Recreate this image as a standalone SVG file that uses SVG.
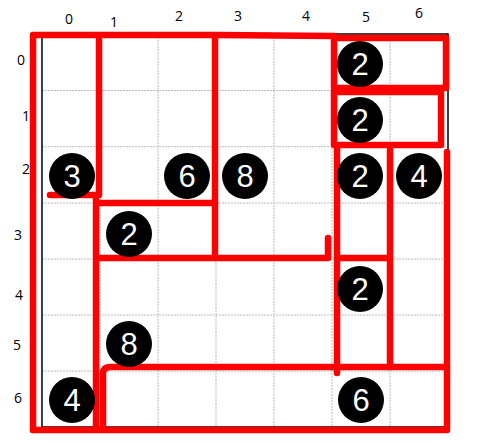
<svg xmlns="http://www.w3.org/2000/svg" width="479" height="442" viewBox="0 0 479 442">
<style>
.grid{stroke:#bbb;stroke-width:1;stroke-dasharray:2 1;fill:none}
.border{stroke:#000;stroke-width:1.5;fill:none}
.lbl{font-family:"Open Sans","Liberation Sans",sans-serif;font-size:14px;fill:#000;text-anchor:middle}
.dot circle{fill:#000}
.dot text{font-family:"Liberation Sans",Arial,sans-serif;font-size:31px;fill:#fff;text-anchor:middle}
.red{stroke:#ff0000;stroke-width:6.5;fill:none;stroke-linecap:round;stroke-linejoin:round}
</style>
<rect width="479" height="442" fill="#fff"/>
<g id="grid">
<path class="grid" d="M100 34V427M158 34V427M216 34V427M274 34V427M332 34V427M390 34V427M42 90.5H448M42 146.7H448M42 203H448M42 259H448M42 315H448M42 371H448"/>
<rect class="border" x="42" y="34" width="406" height="393"/>
</g>
<g id="labels">
<text class="lbl" x="69" y="24">0</text>
<text class="lbl" x="114" y="27">1</text>
<text class="lbl" x="179" y="21">2</text>
<text class="lbl" x="238" y="21">3</text>
<text class="lbl" x="306" y="21">4</text>
<text class="lbl" x="366" y="22">5</text>
<text class="lbl" x="419" y="18">6</text>
<text class="lbl" x="21" y="65">0</text>
<text class="lbl" x="26" y="121">1</text>
<text class="lbl" x="26" y="174">2</text>
<text class="lbl" x="18" y="240">3</text>
<text class="lbl" x="19" y="300">4</text>
<text class="lbl" x="17" y="350">5</text>
<text class="lbl" x="18" y="403">6</text>
</g>
<g id="connectors">
<path class="red" d="M33 430V35H218L333 36"/>
<path class="red" d="M33 430H447V152"/>
<path class="red" d="M99 40V195M50 195H96V427"/>
<path class="red" d="M100 203H215"/>
<path class="red" d="M215 36V258"/>
<path class="red" d="M97 258H328V238"/>
<path class="red" d="M334 36V88H446V38H334"/>
<path class="red" d="M334 91V145H441V92H334"/>
<path class="red" d="M337 146V373"/>
<path class="red" d="M390 150V366"/>
<path class="red" d="M337 258H387"/>
<path class="red" d="M103 425V374Q103 367 110 367H447"/>
</g>
<g id="n1" class="dot"><circle cx="72" cy="176" r="23"/><text x="72" y="187">3</text></g>
<g id="n2" class="dot"><circle cx="187" cy="176" r="23"/><text x="187" y="187">6</text></g>
<g id="n3" class="dot"><circle cx="245" cy="176" r="23"/><text x="245" y="187">8</text></g>
<g id="n4" class="dot"><circle cx="360" cy="64" r="23"/><text x="360" y="75">2</text></g>
<g id="n5" class="dot"><circle cx="360" cy="120" r="23"/><text x="360" y="131">2</text></g>
<g id="n6" class="dot"><circle cx="360" cy="176" r="23"/><text x="360" y="187">2</text></g>
<g id="n7" class="dot"><circle cx="419" cy="176" r="23"/><text x="419" y="187">4</text></g>
<g id="n8" class="dot"><circle cx="129" cy="234" r="23"/><text x="129" y="245">2</text></g>
<g id="n9" class="dot"><circle cx="360" cy="289" r="23"/><text x="360" y="300">2</text></g>
<g id="n10" class="dot"><circle cx="129" cy="344" r="23"/><text x="129" y="355">8</text></g>
<g id="n11" class="dot"><circle cx="72" cy="400" r="23"/><text x="72" y="411">4</text></g>
<g id="n12" class="dot"><circle cx="361" cy="400" r="23"/><text x="361" y="411">6</text></g>
</svg>
